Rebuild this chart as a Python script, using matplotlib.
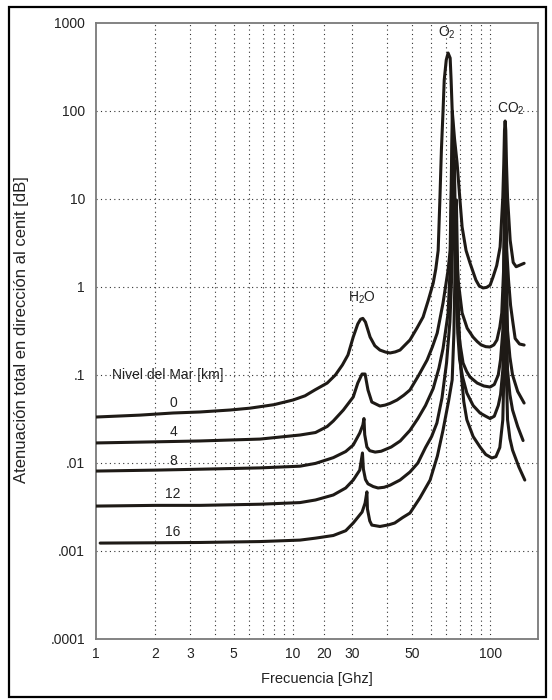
import matplotlib
matplotlib.use("Agg")
import matplotlib.pyplot as plt
from matplotlib.patches import Rectangle

plt.rcParams['font.family'] = ['Liberation Sans', 'DejaVu Sans']
plt.rcParams['mathtext.default'] = 'regular'

# ---- data (frequency GHz, zenith attenuation dB) ----
freq_0 = [1, 1.67, 2.46, 3.37, 4.79, 6.05, 8.0, 10.0, 11.5, 12.9, 14.9, 16.4, 17.8, 19.0, 20.2,
          21.3, 22.0, 22.6, 23.3, 24.6, 26.0, 27.6, 29.5, 31.1, 33.0, 34.9, 39.2, 42.5, 45.7,
          48.5, 51.4, 53.0, 54.5, 55.6, 56.6, 57.7, 58.5, 59.9, 61.2, 62.7, 63.4, 64.2, 66.0,
          68.0, 70.0, 72.1, 75.5, 79.1, 84.7, 88.0, 92.1, 96.0, 100.0, 103.5, 108.0, 112.4,
          116.0, 117.3, 118.3, 119.2, 120.1, 121.1, 122.6, 126.4, 131.0, 135.6, 141.4, 148.8]
att_0 = [0.0333, 0.035, 0.037, 0.038, 0.040, 0.042, 0.046, 0.052, 0.058, 0.0676, 0.081, 0.10,
         0.13, 0.169, 0.27, 0.38, 0.43, 0.44, 0.40, 0.27, 0.215, 0.192, 0.182, 0.178, 0.183,
         0.192, 0.25, 0.34, 0.456, 0.70, 1.1, 1.6, 2.6, 9.75, 36, 100, 225, 380, 456, 400, 225,
         102, 48, 25.6, 11, 4.8, 2.6, 1.87, 1.2, 1.03, 0.975, 0.99, 1.05, 1.3, 1.75, 2.85, 10.5,
         25, 60, 77, 60, 25, 10.5, 3.4, 1.9, 1.7, 1.77, 1.86]

freq_4 = [1, 2.0, 3.37, 6.8, 10.85, 13.0, 14.9, 16.0, 18.0, 20.2, 21.3, 22.4, 23.2, 24.0, 25.1,
          27.6, 29.3, 31.0, 33.7, 36.5, 39.2, 43.5, 47.9, 51.0, 53.9, 57.7, 61.2, 62.7, 63.5,
          64.3, 65.2, 66.3, 67.5, 68.8, 72.1, 76.5, 81.9, 86.0, 90.0, 95.0, 100.0, 104.5, 108.3,
          112.0, 114.6, 117.0, 118.3, 119.2, 120.1, 121.5, 124.0, 127.0, 130.0, 134.0, 141.0,
          148.8]
att_4 = [0.0169, 0.0174, 0.0178, 0.0187, 0.0208, 0.0222, 0.026, 0.030, 0.040, 0.0562, 0.081,
         0.1026, 0.1026, 0.0676, 0.0493, 0.0444, 0.0455, 0.0475, 0.052, 0.059, 0.0676, 0.10,
         0.148, 0.21, 0.30, 0.66, 1.56, 2.6, 15, 100, 25, 6.0, 2.5, 1.2, 0.507, 0.34, 0.27, 0.24,
         0.22, 0.21, 0.208, 0.22, 0.25, 0.35, 0.507, 1.5, 12, 35, 12, 2.6, 1.2, 0.62, 0.42, 0.26,
         0.225, 0.219]

freq_8 = [1, 2.0, 3.37, 6.8, 10.85, 13.0, 16.0, 18.5, 20.2, 21.8, 22.6, 22.9, 23.1, 23.7, 24.5,
          26.1, 28.0, 31.5, 35.0, 39.2, 43.0, 47.0, 51.4, 55.0, 57.7, 61.2, 62.6, 63.5, 64.5,
          65.5, 66.3, 67.2, 68.5, 70.5, 72.9, 76.0, 79.0, 86.0, 93.0, 100.0, 105.0, 110.0, 113.0,
          116.0, 117.8, 119.2, 120.6, 122.6, 126.0, 130.0, 138.0, 148.8]
att_8 = [0.0081, 0.0083, 0.0085, 0.0088, 0.0092, 0.0099, 0.0115, 0.0135, 0.016, 0.0219, 0.027,
         0.032, 0.021, 0.0152, 0.0138, 0.0133, 0.0136, 0.0152, 0.0178, 0.0235, 0.032, 0.045, 0.07,
         0.12, 0.20, 0.50, 1.5, 8.0, 66, 20, 4.0, 1.2, 0.40, 0.22, 0.137, 0.11, 0.095, 0.081,
         0.075, 0.073, 0.078, 0.10, 0.15, 0.32, 2.0, 12.6, 2.0, 0.32, 0.16, 0.10, 0.065, 0.048]

freq_12 = [1, 2.0, 3.37, 6.8, 10.85, 13.0, 16.0, 18.5, 20.2, 21.8, 22.5, 22.75, 23.3, 24.0, 25.5,
           27.0, 29.0, 31.1, 34.9, 39.2, 43.0, 47.0, 50.5, 53.7, 57.0, 60.1, 62.5, 64.0, 65.0,
           65.8, 66.6, 67.5, 68.5, 70.0, 72.5, 76.2, 82.0, 88.9, 95.0, 100.0, 105.0, 110.0, 113.0,
           116.0, 118.3, 119.2, 120.1, 122.6, 126.0, 130.0, 138.0, 147.0]
att_12 = [0.00324, 0.0033, 0.0033, 0.0034, 0.00355, 0.0038, 0.00433, 0.0052, 0.0064, 0.0083,
          0.013, 0.0085, 0.0065, 0.0058, 0.0054, 0.0052, 0.0053, 0.0056, 0.0064, 0.0079, 0.010,
          0.015, 0.020, 0.0285, 0.055, 0.137, 0.4, 1.5, 6.0, 27.7, 6.0, 1.0, 0.3, 0.15, 0.095,
          0.0624, 0.045, 0.037, 0.034, 0.032, 0.034, 0.045, 0.06, 0.114, 0.7, 3.0, 0.7, 0.114,
          0.06, 0.040, 0.026, 0.018]

freq_16 = [1.05, 2.0, 3.37, 6.8, 10.85, 13.0, 16.0, 18.5, 20.2, 22.4, 23.2, 23.7, 23.85, 24.5,
           25.1, 27.6, 30.5, 32.8, 36.0, 39.2, 44.0, 49.6, 54.0, 57.7, 61.5, 64.2, 65.5, 66.5,
           67.4, 68.3, 69.3, 71.0, 73.5, 76.2, 82.0, 88.9, 95.0, 102.0, 107.0, 112.0, 116.0,
           118.3, 119.2, 120.1, 122.6, 126.0, 130.0, 140.0, 150.0]
att_16 = [0.00123, 0.00124, 0.00125, 0.00128, 0.00133, 0.0014, 0.0015, 0.0017, 0.00208,
          0.00277, 0.0035, 0.0047, 0.0030, 0.0022, 0.00197, 0.0019, 0.00198, 0.00208, 0.0024,
          0.0027, 0.0040, 0.0064, 0.012, 0.0237, 0.050, 0.088, 0.3, 2.0, 9.75, 2.0, 0.4, 0.12,
          0.05, 0.031, 0.020, 0.0152, 0.0125, 0.0114, 0.0118, 0.015, 0.031, 0.2, 0.71, 0.2, 0.031,
          0.019, 0.014, 0.009, 0.0064]

altitudes = ["0", "4", "8", "12", "16"]
label_y = [0.048, 0.0225, 0.0105, 0.00445, 0.00164]
series = [(freq_0, att_0), (freq_4, att_4), (freq_8, att_8), (freq_12, att_12), (freq_16, att_16)]

x_tick_pos = [1, 2, 3, 5, 10, 14.4, 20, 40, 100]
x_tick_lab = ["1", "2", "3", "5", "10", "20", "30", "50", "100"]
x_grid = [2, 3, 4, 5, 6, 7, 8, 9, 10, 14.4, 20, 30, 40, 50, 60, 70, 80, 90, 100]
y_ticks = [1e-4, 1e-3, 1e-2, 1e-1, 1, 10, 100, 1000]
y_tick_lab = [".0001", ".001", ".01", ".1", "1", "10", "100", "1000"]

fig = plt.figure(figsize=(5.52, 7.0), dpi=100)
ax = fig.add_axes([96 / 552, 1 - 639 / 700, (538 - 96) / 552, (639 - 23) / 700])
ax.set_xscale('log')
ax.set_yscale('log')
ax.set_xlim(1, 175)
ax.set_ylim(1e-4, 1e3)

for xg in x_grid:
    ax.axvline(xg, color='#333333', lw=0.8, ls=(0, (1, 3)), zorder=1)
for yg in [1e-3, 1e-2, 1e-1, 1, 10, 100]:
    ax.axhline(yg, color='#333333', lw=0.8, ls=(0, (1, 3)), zorder=1)

for fx, ay in series:
    ax.plot(fx, ay, color='#1e1a16', lw=2.2, solid_joinstyle='round', solid_capstyle='round', zorder=3)

ax.set_xticks(x_tick_pos)
ax.set_xticklabels(x_tick_lab)
ax.set_yticks(y_ticks)
ax.set_yticklabels(y_tick_lab)
ax.xaxis.set_minor_locator(matplotlib.ticker.NullLocator())
ax.yaxis.set_minor_locator(matplotlib.ticker.NullLocator())
ax.tick_params(axis='both', length=0, labelsize=10, colors='#222222')
ax.tick_params(axis='x', pad=6)
ax.tick_params(axis='y', pad=8)
for s in ax.spines.values():
    s.set_color('#7a7a7a')
    s.set_linewidth(1.3)

ax.set_xlabel("Frecuencia [Ghz]", fontsize=10.5, color='#222222', labelpad=8)
fig.text(22 / 552, 1 - 330 / 700, "Atenuación total en dirección al cenit [dB]", rotation=90,
         ha='center', va='center', fontsize=12, color='#222222')

ax.text(60.5, 770, "O$_2$", ha='center', va='center', fontsize=10, color='#222222')
ax.text(128, 105, "CO$_2$", ha='center', va='center', fontsize=10, color='#222222')
ax.text(22.5, 0.75, "H$_2$O", ha='center', va='center', fontsize=10, color='#222222')
ax.text(1.2, 0.1, "Nivel del Mar [km]", ha='left', va='center', fontsize=10, color='#222222')
for lab, yv in zip(altitudes, label_y):
    ax.text(2.46, yv, lab, ha='center', va='center', fontsize=10, color='#222222')

fig.add_artist(Rectangle((9 / 552, 1 - 697 / 700), (546 - 9) / 552, (697 - 7) / 700,
                         transform=fig.transFigure, fill=False, edgecolor='black', lw=1.6))

fig.savefig("out.png", dpi=100)
